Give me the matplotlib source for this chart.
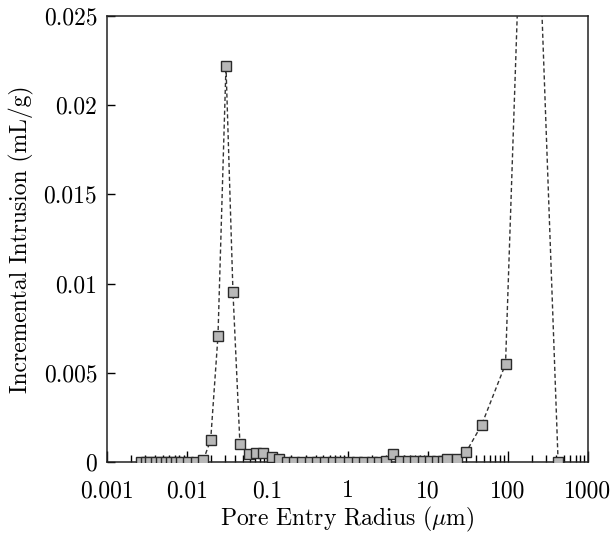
import numpy as np
import matplotlib
matplotlib.use('Agg')
import matplotlib.pyplot as plt
from matplotlib.ticker import FixedLocator, LogLocator, NullFormatter

# pore entry radius (um) and incremental intrusion (mL/g)
radius = [0.00263, 0.00304, 0.00344, 0.00405, 0.00471, 0.00540, 0.00628, 0.00719,
          0.00838, 0.01023, 0.01276, 0.01589, 0.01963, 0.02421, 0.03048, 0.03724,
          0.0455, 0.0590, 0.0721, 0.0889, 0.1132, 0.1406, 0.1742, 0.2163, 0.2698,
          0.3365, 0.4188, 0.5224, 0.6516, 0.8035, 1.04, 1.297, 1.600, 1.995, 2.466,
          3.013, 3.648, 4.498, 5.61, 6.98, 8.71, 10.74, 13.03, 15.49, 17.3, 22.9,
          30.2, 47.0, 93.5, 184.5, 423.6]
intrusion = [0, 0, 0, 0, 0, 0, 0, 0,
             0, 0, 0, 0.00011, 0.00123, 0.00706, 0.0222, 0.00953,
             0.00101, 0.00045, 0.00049, 0.00052, 0.0003, 0.00015, 0, 0, 0,
             0, 0, 0, 0, 0, 0, 0, 0, 0, 0,
             0.00003, 0.00045, 0.00005, 0.00003, 0.00005, 0.00005, 0.00003, 0.00003, 0.00005, 0.00018, 0.00017,
             0.00056, 0.00207, 0.00549, 0.045, 0]

xticks = [0.001, 0.01, 0.1, 1, 10, 100, 1000]
xticklabels = ['0.001', '0.01', '0.1', '1', '10', '100', '1000']
yticks = [0, 0.005, 0.01, 0.015, 0.02, 0.025]
yticklabels = ['0', '0.005', '0.01', '0.015', '0.02', '0.025']

plt.rcParams['font.family'] = ['cmr10', 'DejaVu Serif']
plt.rcParams['mathtext.fontset'] = 'cm'
plt.rcParams['axes.formatter.use_mathtext'] = True

fig = plt.figure(figsize=(6.14, 5.36), dpi=100)
ax = fig.add_axes([0.1743, 0.1381, 0.7834, 0.8320])

ax.plot(radius, intrusion, linestyle=(0, (3, 2)), color='#333333', linewidth=1.0,
        marker='s', markersize=6.5, markerfacecolor='#b8b8b8',
        markeredgecolor='#2a2a2a', markeredgewidth=1.0, clip_on=True, zorder=3)

ax.set_xscale('log')
ax.set_xlim(0.001, 1000)
ax.set_ylim(0, 0.025)

ax.xaxis.set_major_locator(FixedLocator(xticks))
ax.set_xticklabels(xticklabels)
ax.xaxis.set_minor_locator(LogLocator(base=10, subs=np.arange(2, 10), numticks=20))
ax.xaxis.set_minor_formatter(NullFormatter())
ax.set_yticks(yticks)
ax.set_yticklabels(yticklabels)

ax.tick_params(axis='x', which='major', direction='in', length=8, width=1,
               labelsize=17, pad=13, top=False)
ax.tick_params(axis='x', which='minor', direction='in', length=5, width=1, top=False)
ax.tick_params(axis='y', which='major', direction='in', length=6, width=1,
               labelsize=17, pad=7, right=False)

for s in ax.spines.values():
    s.set_linewidth(1.1)
    s.set_color('#222222')

ax.set_xlabel(r'Pore Entry Radius ($\mu$m)', fontsize=17, labelpad=2)
ax.set_ylabel('Incremental Intrusion (mL/g)', fontsize=17, labelpad=7)

fig.savefig('out.png', dpi=100)
